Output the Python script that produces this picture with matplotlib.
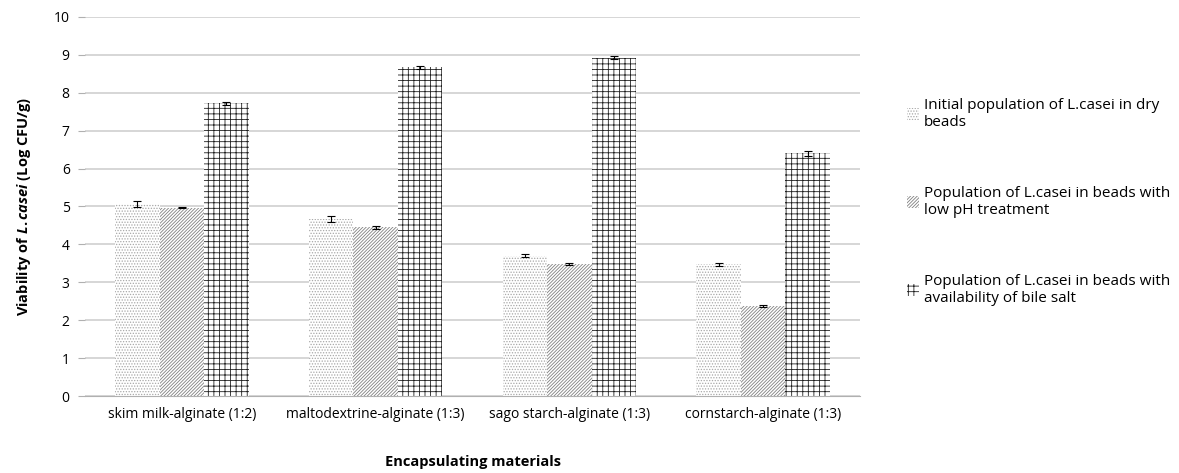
import numpy as np
import matplotlib.pyplot as plt
from matplotlib.patches import Patch

plt.rcParams['font.family'] = 'Open Sans'
plt.rcParams['mathtext.fontset'] = 'custom'
plt.rcParams['mathtext.it'] = 'Open Sans:italic:bold'
plt.rcParams['mathtext.rm'] = 'Open Sans:bold'
plt.rcParams['hatch.linewidth'] = 0.6

categorias = ["skim milk-alginate (1:2)", "maltodextrine-alginate (1:3)",
              "sago starch-alginate (1:3)", "cornstarch-alginate (1:3)"]
inicial = [5.07, 4.68, 3.70, 3.48]
ph_bajo = [4.97, 4.45, 3.48, 2.38]
bilis = [7.72, 8.67, 8.93, 6.40]
err_inicial = [0.08, 0.08, 0.04, 0.04]
err_ph = [0.02, 0.04, 0.02, 0.02]
err_bilis = [0.04, 0.04, 0.03, 0.06]
etiquetas = ["Initial population of L.casei in dry\nbeads",
             "Population of L.casei in beads with\nlow pH treatment",
             "Population of L.casei in beads with\navailability of bile salt"]

fig = plt.figure(figsize=(11.79, 4.73), dpi=100)
ax = fig.add_axes([85 / 1179, 77 / 473, 775 / 1179, 379 / 473])

x = np.arange(len(categorias))
w = 0.23
estilos = [("......", "#a8a8a8"), ("//////////", "#808080"), ("+++", "#202020")]
series = [(inicial, err_inicial), (ph_bajo, err_ph), (bilis, err_bilis)]
for i, ((vals, errs), (hatch, col)) in enumerate(zip(series, estilos)):
    ax.bar(x + (i - 1) * w, vals, w, color="white", hatch=hatch,
           edgecolor=col, linewidth=0, zorder=2)
    ax.errorbar(x + (i - 1) * w, vals, yerr=errs, fmt="none", ecolor="black",
                elinewidth=0.8, capsize=3, capthick=0.8, zorder=3)

ax.set_xlim(-0.5, 3.5)
ax.set_ylim(0, 10)
ax.set_yticks(range(0, 11))
ax.yaxis.grid(True, color="#d0d0d0", linewidth=1.2, zorder=0)
ax.set_axisbelow(True)
for s in ["top", "right", "left"]:
    ax.spines[s].set_visible(False)
ax.spines["bottom"].set_color("#b0b0b0")
ax.tick_params(axis="y", length=5, color="#b0b0b0", labelsize=10, pad=6)
ax.tick_params(axis="x", length=0, labelsize=10, pad=8)
ax.set_xticks(x)
ax.set_xticklabels(categorias)
ax.set_ylabel("Viability of $\\it{L.casei}$ (Log CFU/g)", fontsize=10.5,
              fontweight="bold", labelpad=15)
ax.set_xlabel("Encapsulating materials", fontsize=10.5, fontweight="bold",
              labelpad=24)

handles = [Patch(facecolor="white", hatch=h, edgecolor=c, linewidth=0)
           for h, c in estilos]
fig.legend(handles, etiquetas, loc="upper left", bbox_to_anchor=(893 / 1179, 1 - 84 / 473),
           frameon=False, fontsize=11, handlelength=0.8, handleheight=0.8,
           handletextpad=0.3, labelspacing=3.65)

fig.savefig("out.png", dpi=100)
